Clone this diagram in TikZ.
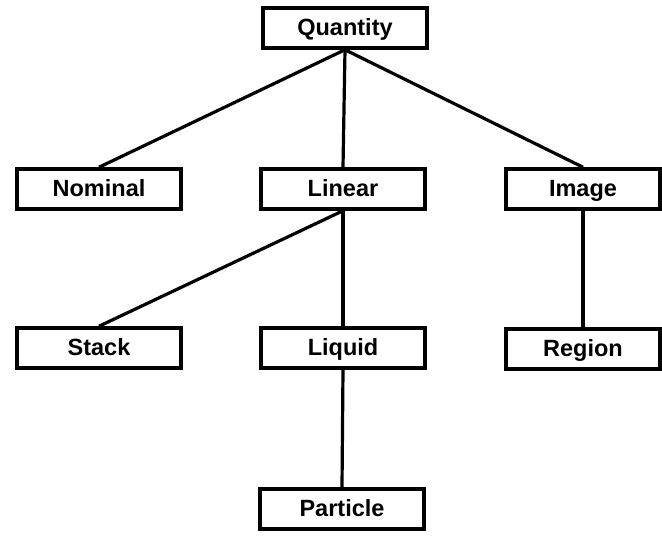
\documentclass[tikz,border=0pt]{standalone}
\usepackage{fontspec}
\setmainfont{Liberation Sans}
\usepackage{tikz}

\begin{document}
\begin{tikzpicture}[x=1pt, y=-1pt,
  box/.style={draw, line width=3.5pt, minimum width=164pt, minimum height=40pt, inner sep=0pt,
    text height=17pt, text depth=1pt, font=\fontsize{23.5}{26}\selectfont\bfseries},
  link/.style={line width=3.2pt}]
\useasboundingbox (0,0) rectangle (662,537);
\node[box] (quantity) at (345,28) {Quantity};
\node[box] (nominal) at (99,189) {Nominal};
\node[box] (linear) at (343,189) {Linear};
\node[box, minimum width=154pt] (image) at (583,189) {Image};
\node[box] (stack) at (99,348) {Stack};
\node[box] (liquid) at (343,348) {Liquid};
\node[box, minimum width=154pt] (region) at (583,349) {Region};
\node[box] (particle) at (342,509) {Particle};
\draw[link] (quantity.south) -- (nominal.north);
\draw[link] (quantity.south) -- (linear.north);
\draw[link] (quantity.south) -- (image.north);
\draw[link] (linear.south) -- (stack.north);
\draw[link] (linear.south) -- (liquid.north);
\draw[link] (image.south) -- (region.north);
\draw[link] (liquid.south) -- (particle.north);
\end{tikzpicture}
\end{document}
